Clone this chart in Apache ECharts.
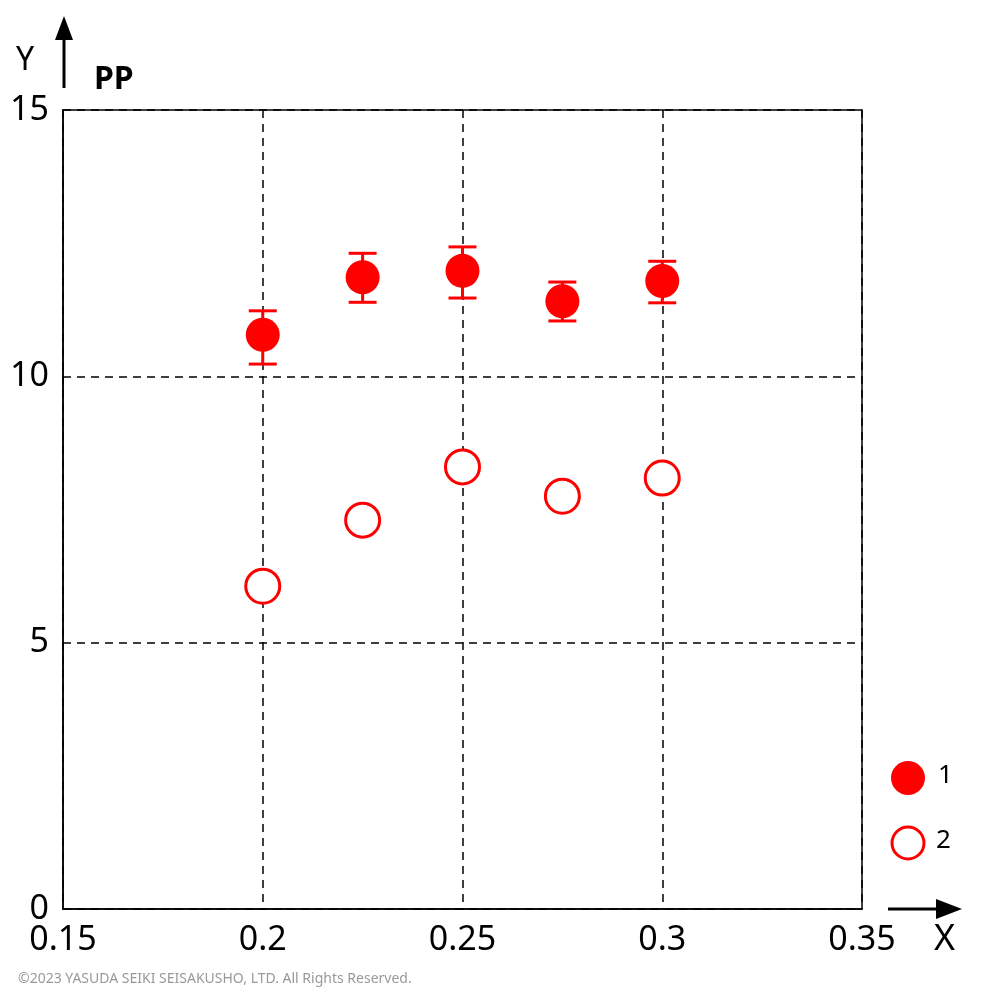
<!DOCTYPE html>
<html><head><meta charset="utf-8">
<script src="https://cdn.jsdelivr.net/npm/echarts@6/dist/echarts.min.js"></script>
<style>html,body{margin:0;padding:0;background:#fff}#c{width:1001px;height:1001px}</style>
</head><body><div id="c"></div>
<script>
var xs = [0.2, 0.225, 0.25, 0.275, 0.3];
var y1 = [10.78, 11.86, 11.98, 11.41, 11.79];
var y1Low = [10.23, 11.39, 11.47, 11.04, 11.38];
var y1High = [11.23, 12.31, 12.43, 11.77, 12.16];
var y2 = [6.06, 7.30, 8.30, 7.75, 8.09];
var xTicks = [0.15, 0.2, 0.25, 0.3, 0.35];
var yTicks = [0, 5, 10, 15];

var chart = echarts.init(document.getElementById('c'));
var font = 'Noto Sans';
var red = '#ff0000';

var option = {
    animation: false,
    grid: { left: 63, right: 139, top: 110, bottom: 92, show: true, borderColor: '#000', borderWidth: 1.5 },
    xAxis: {
        type: 'value', min: 0.15, max: 0.35, interval: 0.05,
        axisLine: { show: true, lineStyle: { color: '#000', width: 1.5 } },
        axisTick: { show: false },
        axisLabel: { color: '#000', fontSize: 34, fontFamily: font, margin: 14,
            formatter: function (v) { var s = xTicks.find(function (t) { return Math.abs(t - v) < 1e-9; }); return s === undefined ? '' : String(s); } },
        splitLine: { show: true, lineStyle: { color: '#000', type: [8, 6], width: 1.5 } }
    },
    yAxis: {
        type: 'value', min: 0, max: 15, interval: 5,
        axisLine: { show: true, lineStyle: { color: '#000', width: 1.5 } },
        axisTick: { show: false },
        axisLabel: { color: '#000', fontSize: 34, fontFamily: font, margin: 14,
            formatter: function (v) { return yTicks.indexOf(v) >= 0 ? String(v) : ''; } },
        splitLine: { show: true, lineStyle: { color: '#000', type: [8, 6], width: 1.5 } }
    },
    series: [
        {
            type: 'custom', z: 3,
            renderItem: function (params, api) {
                var x = api.value(0);
                var lo = api.coord([x, api.value(1)]);
                var hi = api.coord([x, api.value(2)]);
                var w = 14;
                var st = { stroke: red, lineWidth: 3 };
                return { type: 'group', children: [
                    { type: 'line', shape: { x1: lo[0], y1: lo[1], x2: hi[0], y2: hi[1] }, style: st },
                    { type: 'line', shape: { x1: lo[0] - w, y1: lo[1], x2: lo[0] + w, y2: lo[1] }, style: st },
                    { type: 'line', shape: { x1: hi[0] - w, y1: hi[1], x2: hi[0] + w, y2: hi[1] }, style: st }
                ] };
            },
            data: xs.map(function (x, i) { return [x, y1Low[i], y1High[i]]; })
        },
        {
            name: '1', type: 'scatter', symbolSize: 34, z: 4,
            itemStyle: { color: red, opacity: 1 },
            data: xs.map(function (x, i) { return [x, y1[i]]; })
        },
        {
            name: '2', type: 'scatter', symbolSize: 34, z: 4,
            itemStyle: { color: '#fff', borderColor: red, borderWidth: 3, opacity: 1 },
            data: xs.map(function (x, i) { return [x, y2[i]]; })
        }
    ],
    graphic: [
        { type: 'line', shape: { x1: 64, y1: 88, x2: 64, y2: 22 }, style: { stroke: '#000', lineWidth: 3 } },
        { type: 'polygon', shape: { points: [[64, 16], [55, 40], [73, 40]] }, style: { fill: '#000' } },
        { type: 'text', left: 16, top: 45, style: { text: 'Y', fontSize: 32, fontFamily: font, fill: '#000' } },
        { type: 'text', left: 94, top: 64, style: { text: 'PP', fontSize: 32, fontFamily: font, fontWeight: 'bold', fill: '#000' } },
        { type: 'line', shape: { x1: 888, y1: 909, x2: 950, y2: 909 }, style: { stroke: '#000', lineWidth: 3 } },
        { type: 'polygon', shape: { points: [[962, 909], [936, 899], [936, 919]] }, style: { fill: '#000' } },
        { type: 'text', left: 934, top: 922, style: { text: 'X', fontSize: 36, fontFamily: font, fill: '#000' } },
        { type: 'circle', shape: { cx: 908, cy: 778, r: 17 }, style: { fill: red } },
        { type: 'text', left: 938, top: 763, style: { text: '1', fontSize: 26, fontFamily: font, fill: '#000' } },
        { type: 'circle', shape: { cx: 908, cy: 843, r: 16 }, style: { fill: '#fff', stroke: red, lineWidth: 3 } },
        { type: 'text', left: 936, top: 828, style: { text: '2', fontSize: 26, fontFamily: font, fill: '#000' } },
        { type: 'text', left: 18, top: 972, style: { text: '©2023 YASUDA SEIKI SEISAKUSHO, LTD. All Rights Reserved.', fontSize: 14, fontFamily: font, fill: '#999' } }
    ]
};
chart.setOption(option);
</script>
</body></html>
